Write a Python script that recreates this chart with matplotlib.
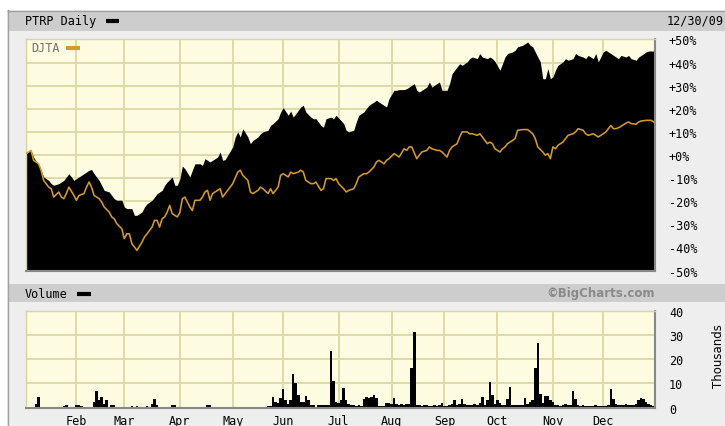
import matplotlib
matplotlib.use("Agg")
import matplotlib.pyplot as plt
from matplotlib.patches import Rectangle
from matplotlib.lines import Line2D

# ---------------- data (trading-day index in 2009, percent change) ----------------
ptrp_day = [0, 2, 3, 5, 6, 7, 9, 10, 11, 13, 14, 15, 17, 18, 19, 21, 22, 23, 25, 26,
            27, 29, 30, 31, 33, 34, 35, 36, 38, 39, 40, 42, 43, 44, 46, 47, 48, 50, 51, 52,
            54, 55, 56, 58, 59, 60, 61, 62, 63, 65, 66, 67, 69, 70, 71, 73, 74, 75, 76, 77,
            78, 79, 80, 82, 83, 84, 85, 86, 88, 89, 90, 92, 93, 94, 96, 97, 98, 100, 101, 102,
            104, 105, 106, 108, 109, 110, 111, 113, 114, 115, 117, 118, 119, 121, 122, 123, 124, 126, 127, 128,
            130, 131, 132, 134, 135, 136, 138, 139, 140, 142, 143, 144, 146, 147, 148, 150, 151, 152, 154, 155,
            156, 157, 159, 160, 161, 163, 164, 165, 167, 168, 169, 171, 172, 173, 175, 176, 177, 179, 180, 181,
            183, 184, 185, 186, 188, 189, 190, 191, 193, 194, 195, 197, 198, 199, 200, 201, 202, 203, 204, 205,
            206, 207, 208, 209, 210, 211, 213, 214, 215, 217, 218, 219, 221, 222, 223, 225, 226, 227, 229, 230,
            231, 232, 234, 235, 236, 238, 239, 240, 242, 243, 244, 246, 247, 248, 249]
ptrp_pct = [0.6, 2.0, -0.9, -4.5, -6.6, -9.5, -11.0, -12.4, -13.1, -12.4, -11.7, -11.0, -8.1, -9.5, -11.0, -9.5, -8.8, -8.1, -6.6, -6.3,
            -8.1, -11.0, -13.1, -15.3, -16.0, -17.5, -18.9, -19.6, -19.6, -22.5, -23.2, -23.2, -26.1, -26.1, -24.7, -22.5, -21.1, -19.6, -18.2, -16.7,
            -15.3, -13.1, -11.7, -9.5, -13.1, -13.1, -10.5, -4.8, -5.9, -9.5, -6.6, -3.8, -3.8, -4.5, -1.6, -3.0, -2.3, -1.6, -0.9, 1.3,
            -2.3, -2.0, -0.1, 3.5, 7.8, 10.0, 7.8, 11.4, 7.8, 4.9, 6.3, 7.8, 9.2, 10.0, 10.7, 12.8, 13.6, 15.7, 18.6, 20.5,
            17.2, 19.0, 16.4, 19.3, 20.8, 21.5, 18.6, 16.4, 15.7, 15.7, 12.8, 12.0, 15.7, 16.4, 15.7, 17.2, 16.0, 13.6, 10.7, 10.0,
            10.7, 14.3, 17.2, 18.6, 20.1, 21.5, 22.9, 23.7, 22.9, 21.5, 20.8, 24.4, 28.0, 28.0, 28.3, 28.3, 28.7, 29.4, 30.9, 28.0,
            27.3, 28.0, 29.4, 31.6, 29.4, 30.9, 31.6, 28.0, 28.0, 30.9, 35.2, 38.1, 39.5, 38.8, 40.3, 41.7, 42.4, 41.7, 43.9, 42.4,
            41.7, 42.4, 41.7, 40.5, 36.7, 39.5, 42.4, 43.9, 44.6, 45.3, 46.8, 47.5, 48.2, 48.9, 47.5, 46.8, 44.6, 42.4, 40.3, 33.0,
            33.0, 37.4, 33.0, 33.8, 36.7, 38.8, 40.3, 41.7, 41.0, 41.7, 43.9, 43.1, 42.4, 41.7, 43.1, 41.7, 43.9, 40.3, 44.6, 45.3,
            44.6, 43.9, 42.4, 41.7, 43.1, 42.4, 43.1, 41.7, 41.0, 42.4, 43.1, 44.6, 45.0, 45.0, 45.0]

djta_day = [0, 2, 3, 5, 6, 7, 9, 10, 11, 13, 14, 15, 16, 17, 19, 20, 21, 23, 24, 25,
            26, 27, 29, 30, 31, 33, 34, 35, 36, 38, 39, 40, 41, 42, 43, 44, 46, 47, 48, 50,
            51, 52, 53, 54, 55, 56, 57, 58, 60, 61, 62, 63, 65, 66, 67, 69, 70, 71, 72, 73,
            74, 76, 77, 78, 80, 81, 82, 84, 85, 86, 88, 89, 90, 92, 93, 94, 96, 97, 98, 100,
            101, 102, 104, 105, 106, 108, 109, 110, 111, 113, 114, 115, 117, 118, 119, 121, 122, 123, 124, 126,
            127, 128, 130, 131, 132, 134, 135, 136, 138, 139, 140, 142, 143, 144, 146, 147, 148, 150, 151, 152,
            153, 155, 156, 157, 159, 160, 161, 163, 164, 165, 167, 168, 169, 171, 172, 173, 175, 176, 177, 179,
            180, 181, 183, 184, 185, 186, 188, 189, 190, 191, 193, 194, 195, 197, 198, 199, 201, 202, 203, 205,
            206, 207, 208, 209, 210, 211, 213, 214, 215, 217, 218, 219, 221, 222, 223, 225, 226, 227, 229, 230,
            231, 232, 233, 234, 235, 236, 238, 239, 240, 242, 243, 244, 246, 247, 248, 249]
djta_pct = [0.6, 2.0, -2.3, -3.8, -6.6, -11.0, -13.9, -14.6, -18.2, -16.0, -18.2, -18.9, -16.7, -13.9, -17.5, -19.6, -17.5, -16.7, -13.9, -11.7,
            -13.9, -17.5, -18.9, -20.3, -22.5, -24.7, -26.8, -27.6, -29.7, -31.9, -36.2, -34.1, -34.1, -38.4, -39.8, -41.3, -37.7, -35.5, -34.1, -31.2,
            -28.3, -28.3, -31.2, -27.6, -26.8, -24.7, -21.8, -25.4, -26.8, -25.0, -19.0, -18.2, -22.5, -24.0, -19.6, -19.6, -18.2, -16.0, -15.3, -19.6,
            -16.7, -15.3, -14.6, -18.2, -15.3, -13.9, -12.4, -7.4, -6.6, -8.8, -11.0, -16.0, -16.7, -15.3, -13.9, -14.6, -16.7, -14.6, -16.7, -13.9,
            -8.8, -8.1, -9.5, -7.4, -8.1, -7.4, -6.6, -7.4, -11.0, -12.4, -12.4, -11.7, -15.3, -14.6, -10.2, -10.2, -11.0, -10.2, -12.4, -14.6,
            -16.0, -15.3, -14.6, -12.4, -9.5, -8.1, -8.1, -7.4, -5.2, -3.0, -2.3, -3.8, -2.3, -1.6, 0.6, -0.1, -0.9, 2.7, 2.0, 3.5,
            3.5, -1.6, -0.1, 1.3, 2.0, 3.5, 2.7, 2.0, 2.0, 1.3, -0.9, 2.0, 3.5, 4.9, 7.8, 10.0, 10.0, 9.2, 9.2, 8.5,
            9.2, 7.8, 4.9, 5.6, 4.9, 2.7, 1.3, 2.7, 3.5, 4.9, 6.3, 7.1, 10.7, 11.0, 11.0, 11.0, 9.2, 7.1, 3.5, 1.3,
            -0.1, 0.6, -1.6, 3.5, 2.7, 4.2, 5.6, 7.1, 8.5, 9.2, 10.0, 11.4, 10.7, 9.2, 8.5, 9.2, 8.5, 7.8, 9.2, 10.0,
            11.4, 12.8, 11.4, 11.4, 11.8, 12.4, 13.8, 14.3, 13.6, 13.3, 14.3, 14.7, 15.0, 15.0, 15.0, 14.3]

# daily volume in thousands, Jan..Dec 2009
volume_k = (
    [0, 0, 0, 0, 1.5, 4.2, 0, 0, 0, 0, 0, 0, 0, 0, 0, 0.5, 1.0, 0.3, 0, 0] +                      # Jan
    [1.0, 1.2, 0.8, 0, 0, 0, 0, 2.5, 7.0, 3.0, 4.5, 1.5, 3.2, 0, 1.0, 1.0, 0.3, 0, 0] +              # Feb
    [0, 0, 0, 0.5, 0, 0.5, 0, 0, 0, 0.5, 0, 1.5, 3.7, 1.0, 0, 0, 0, 0, 0, 1.0, 1.2, 0.3] +          # Mar
    [0.4, 0, 0, 0, 0, 0, 0, 0, 0, 0, 0, 1.0, 1.2, 0.3, 0, 0, 0, 0, 0, 0.3, 0.4] +                  # Apr
    [0.4, 0, 0.4, 0, 0, 0, 0, 0, 0, 0, 0, 0, 0, 0, 0.5, 0.5, 4.2, 2.5, 2.0, 4.0] +                  # May
    [7.8, 3.0, 1.5, 3.0, 14.0, 10.0, 5.0, 2.5, 2.5, 4.8, 3.0, 1.0, 1.0, 0.3, 1.2, 1.2, 1.2, 1.0,
     1.2, 23.4, 11.0, 2.5] +                                                                         # Jun
    [2.0, 3.0, 8.0, 3.0, 1.5, 1.0, 1.0, 0.8, 1.0, 0.8, 3.5, 4.5, 4.0, 4.5, 5.0, 4.0, 0.7, 0.7,
     0.8, 2.0, 2.0] +                                                                                # Jul
    [1.5, 4.0, 1.5, 1.2, 1.5, 1.2, 1.5, 1.5, 16.5, 31.5, 1.0, 1.0, 0.8, 1.2, 1.0, 0.5, 0.5, 1.0,
     0.5, 1.0, 2.0] +                                                                                # Aug
    [0.5, 0.8, 1.0, 1.5, 3.0, 1.0, 1.5, 3.5, 1.5, 1.0, 1.2, 1.2, 1.5, 1.2, 2.0, 4.2, 1.2, 3.0,
     10.5, 5.0, 1.5] +                                                                               # Sep
    [3.0, 2.0, 1.2, 1.0, 3.5, 8.5, 1.0, 1.0, 1.2, 1.0, 1.2, 4.0, 1.5, 2.5, 3.0, 16.5, 27.0, 5.5,
     2.0, 4.8, 4.8, 3.0] +                                                                           # Oct
    [2.5, 1.0, 1.0, 0.5, 1.0, 1.5, 1.0, 1.2, 7.0, 3.5, 1.0, 0.8, 1.0, 0.5, 0.8, 0.5, 0.8, 1.0,
     0.5, 0.8] +                                                                                     # Nov
    [0.5, 0.8, 1.0, 7.5, 3.5, 1.5, 1.0, 1.2, 1.0, 1.5, 1.2, 1.0, 1.0, 1.5, 3.0, 4.0, 3.5, 2.5,
     1.5, 1.0, 0.8]                                                                                  # Dec
)

month_labels = ["Feb", "Mar", "Apr", "May", "Jun", "Jul", "Aug", "Sep", "Oct", "Nov", "Dec"]
month_start = [20, 39, 61, 82, 102, 124, 145, 166, 187, 209, 229]
pct_ticks = [50, 40, 30, 20, 10, 0, -10, -20, -30, -40, -50]
vol_ticks = [0, 10, 20, 30, 40]

# ---------------- layout helpers ----------------
W, H = 725, 427
MONO = "DejaVu Sans Mono"
plt.rcParams["font.family"] = [MONO, "DejaVu Sans"]

fig = plt.figure(figsize=(W / 100, H / 100), dpi=100)
fig.patch.set_facecolor("white")


def fx(x):
    return x / W


def fy(y):
    return 1 - y / H


def rect(x0, y0, x1, y1, color, z=0):
    fig.add_artist(Rectangle((fx(x0), fy(y1)), (x1 - x0) / W, (y1 - y0) / H,
                             transform=fig.transFigure, facecolor=color,
                             edgecolor="none", zorder=z))


def hline(x0, x1, y, color, lw):
    fig.add_artist(Line2D([fx(x0), fx(x1)], [fy(y), fy(y)], transform=fig.transFigure,
                          color=color, lw=lw, solid_capstyle="butt", zorder=3))


# frame backgrounds
rect(7, 11, 725, 427, "#eeeeee")
rect(8, 12, 725, 32, "#cdcdcd", 1)
rect(8, 285, 725, 303, "#cdcdcd", 1)
fig.add_artist(Line2D([fx(7.5), fx(7.5)], [fy(11), fy(427)], transform=fig.transFigure,
                      color="#a0a0a0", lw=1.0, zorder=2))
hline(7, 725, 11.5, "#a0a0a0", 1.0)

GRID = "#dedba8"
FACE = "#fdfce1"

# ---------------- price axes ----------------
ax = fig.add_axes([fx(26), fy(272), (655 - 26) / W, (272 - 40) / H])
ax.set_facecolor(FACE)
for m in month_start:
    ax.axvline(m, color=GRID, lw=1.4, zorder=0.5)
for t in pct_ticks:
    ax.axhline(t, color=GRID, lw=1.4, zorder=0.5)
ax.fill_between(ptrp_day, ptrp_pct, -80, color="black", lw=0, zorder=2)
ax.plot(djta_day, djta_pct, color="#d49a2c", lw=1.15, zorder=3)
ax.set_xlim(0, 249.5)
ax.set_ylim(-50.2, 50.2)
ax.yaxis.tick_right()
ax.set_yticks(pct_ticks)
ax.set_yticklabels([f"{t:+d}%" for t in pct_ticks])
ax.set_xticks([])
ax.tick_params(axis="y", length=0, pad=10, labelsize=8.5)
for s in ["top", "left"]:
    ax.spines[s].set_color("#d6d3a4")
    ax.spines[s].set_linewidth(1.0)
for s in ["bottom", "right"]:
    ax.spines[s].set_color("#888888")
    ax.spines[s].set_linewidth(1.5)

# ---------------- volume axes ----------------
vax = fig.add_axes([fx(26), fy(409), (655 - 26) / W, (409 - 312) / H])
vax.set_facecolor(FACE)
for m in month_start:
    vax.axvline(m, color=GRID, lw=1.4, zorder=0.5)
for t in vol_ticks[1:-1]:
    vax.axhline(t, color=GRID, lw=1.4, zorder=0.5)
vax.bar(range(len(volume_k)), volume_k, width=1.0, color="black", lw=0, zorder=2)
vax.set_xlim(0, 249.5)
vax.set_ylim(-0.2, 40.1)
vax.yaxis.tick_right()
vax.set_yticks(vol_ticks)
vax.set_xticks(month_start)
vax.set_xticklabels(month_labels)
vax.tick_params(axis="both", length=0, labelsize=8.5)
vax.tick_params(axis="y", pad=10)
vax.tick_params(axis="x", pad=4)
for s in ["top", "left"]:
    vax.spines[s].set_color("#d6d3a4")
    vax.spines[s].set_linewidth(1.0)
for s in ["bottom", "right"]:
    vax.spines[s].set_color("#888888")
    vax.spines[s].set_linewidth(1.5)

# ---------------- header texts and legend keys ----------------
fig.text(fx(25), fy(21.5), "PTRP Daily", fontsize=8.5, va="center", ha="left", color="black", zorder=4)
hline(106, 119, 21.5, "black", 3.0)
fig.text(fx(667), fy(21.5), "12/30/09", fontsize=8.5, va="center", ha="left", color="black", zorder=4)

fig.text(fx(31), fy(49), "DJTA", fontsize=8.5, va="center", ha="left", color="#707070", zorder=4)
hline(66, 80, 49, "#d49a2c", 3.0)

fig.text(fx(25), fy(294.5), "Volume", fontsize=8.5, va="center", ha="left", color="black", zorder=4)
hline(77, 91, 294.5, "black", 3.0)
fig.text(fx(655), fy(294), "\u00a9BigCharts.com", fontsize=8.5, fontweight="bold",
         family="DejaVu Sans", va="center", ha="right", color="#8a8a8a", zorder=4)

fig.text(fx(718), fy(356), "Thousands", fontsize=8.5, rotation=90, family="DejaVu Sans",
         va="center", ha="center", color="black", zorder=4)

fig.savefig("out.png", dpi=100, facecolor=fig.get_facecolor())
